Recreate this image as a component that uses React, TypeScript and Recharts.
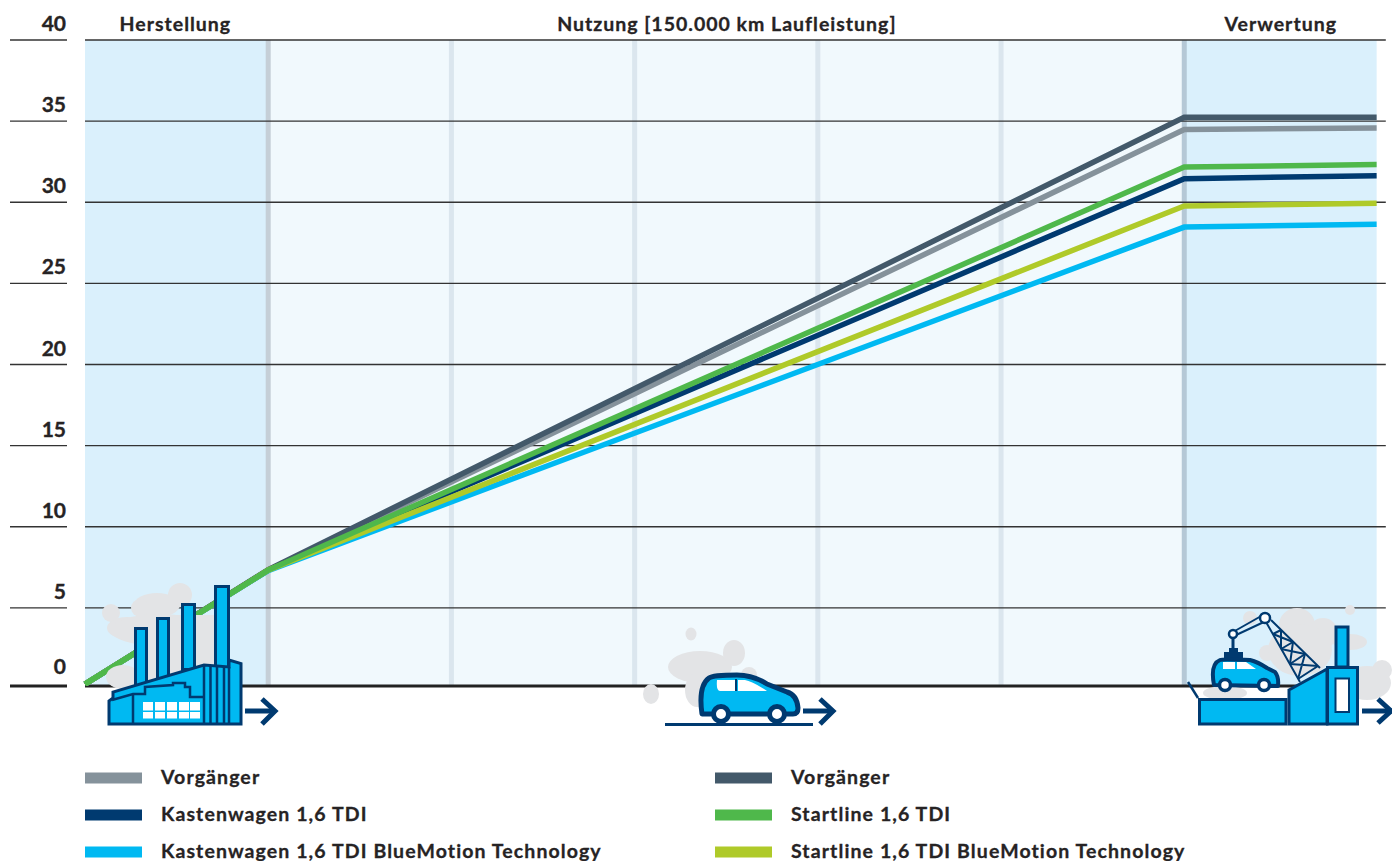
import React from "react";
import { ComposedChart, Line, XAxis, YAxis, ReferenceArea, ReferenceLine } from "recharts";

const FONT = "Lato, 'Open Sans', sans-serif";
const INK = "#262324";
const NAVY = "#003a70";
const CYAN = "#00b9f2";
const SMOKE = "#e3e4e6";

// x is thousand km of use; -30..0 is production, 150..181.5 is recycling
const stageX = [-30, 0, 150, 181.5];
const vorgaengerGrau = [0.3, 7.33, 34.49, 34.58];
const vorgaengerDunkel = [0.3, 7.36, 35.24, 35.24];
const kastenwagen = [0.3, 7.33, 31.45, 31.64];
const startline = [0.3, 7.33, 32.17, 32.32];
const kastenwagenBmt = [0.3, 7.3, 28.47, 28.64];
const startlineBmt = [0.3, 7.33, 29.77, 29.94];

const seriesDefs = [
  { key: "vorgaengerGrau", label: "Vorgänger", color: "#85929b", values: vorgaengerGrau },
  { key: "vorgaengerDunkel", label: "Vorgänger", color: "#43596a", values: vorgaengerDunkel },
  { key: "kastenwagen", label: "Kastenwagen 1,6 TDI", color: "#003a70", values: kastenwagen },
  { key: "kastenwagenBmt", label: "Kastenwagen 1,6 TDI BlueMotion Technology", color: "#00b9f2", values: kastenwagenBmt },
  { key: "startlineBmt", label: "Startline 1,6 TDI BlueMotion Technology", color: "#afca29", values: startlineBmt },
  { key: "startline", label: "Startline 1,6 TDI", color: "#4fb84b", values: startline },
];
const legendLeft = ["vorgaengerGrau", "kastenwagen", "kastenwagenBmt"];
const legendRight = ["vorgaengerDunkel", "startline", "startlineBmt"];

const data = stageX.map((x, i) => {
  const row: Record<string, number> = { x };
  seriesDefs.forEach((s) => (row[s.key] = s.values[i]));
  return row;
});

const BASE = 0.185;
const yTicks = [BASE, 5, 10, 15, 20, 25, 30, 35, 40];
const phaseTicks = [-15.2, 75.1, 165.8];
const phaseLabels = ["Herstellung", "Nutzung [150.000 km Laufleistung]", "Verwertung"];
const innerBands = [30, 60, 90, 120];

const YTick = ({ y, payload }: any) => {
  const isBase = payload.value === BASE;
  return (
    <g>
      <line x1={10} x2={67} y1={y} y2={y} stroke={isBase ? "#222" : "#333"} strokeWidth={isBase ? 3 : 1.4} />
      <text x={66} y={y - (isBase ? 12 : 9)} textAnchor="end" fontFamily={FONT} fontWeight={700} fontSize={21} stroke={INK} strokeWidth={0.35} fill={INK}>
        {isBase ? 0 : payload.value}
      </text>
    </g>
  );
};

const XTick = ({ x, payload, index }: any) => (
  <text x={x} y={31} textAnchor="middle" fontFamily={FONT} fontWeight={700} fontSize={19.5} letterSpacing={1} stroke={INK} strokeWidth={0.3} fill={INK}>
    {phaseLabels[index]}
  </text>
);

const Arrow = ({ x, tip }: { x: number; tip: number }) => (
  <g fill="none" stroke={NAVY} strokeWidth={5}>
    <path d={`M${x} 711H${tip - 2}`} />
    <path d={`M${tip - 14} 699L${tip - 1} 711L${tip - 14} 724`} />
  </g>
);

const Factory = () => (
  <g>
    <g fill={SMOKE}>
      <circle cx={111} cy={613} r={9} />
      <ellipse cx={157} cy={605} rx={23} ry={12} />
      <circle cx={180} cy={595} r={12} />
      <circle cx={140} cy={608} r={9} />
      <ellipse cx={127} cy={628} rx={20} ry={11} />
      <ellipse cx={160} cy={630} rx={50} ry={16} />
      <ellipse cx={190} cy={635} rx={27} ry={16} />
      <rect x={140} y={615} width={75} height={65} />
      <circle cx={220} cy={653} r={10} />
      <ellipse cx={123} cy={677} rx={17} ry={12} />
    </g>
    <g fill={CYAN} stroke={NAVY} strokeWidth={3}>
      <rect x={135.5} y={628.5} width={11} height={58} />
      <rect x={157.5} y={618.5} width={11} height={60} />
      <rect x={182.5} y={604.5} width={12} height={65} />
      <rect x={215.5} y={586.5} width={13} height={82} />
      <path d="M109 724V701L113 698V692L204 665L229 667V660L241 663.5V724Z" />
    </g>
    <g fill="none" stroke={NAVY} strokeWidth={2.5}>
      <path d="M112 700L133 694H145V687L173 685V683H185V687H190V697H204" />
      <path d="M133 694V724M204 665V724M210.500 666V724M217 666V724M224 667V724M229 667V724" />
    </g>
    <g fill="#fff">
      {[143, 155, 167, 179, 190].map((x) =>
        [702, 712].map((y) => <rect key={`${x}-${y}`} x={x} y={y} width={10} height={y === 702 ? 8.500 : 6.500} />)
      )}
    </g>
    <Arrow x={245} tip={276} />
  </g>
);

const UseCar = () => (
  <g>
    <g fill={SMOKE}>
      <ellipse cx={700} cy={667} rx={32} ry={16} />
      <ellipse cx={734} cy={653} rx={11} ry={13} />
      <ellipse cx={691} cy={634} rx={5.500} ry={6.500} />
      <ellipse cx={651} cy={694} rx={8} ry={10} />
      <circle cx={749} cy={675} r={8} />
      <ellipse cx={697} cy={690} rx={12} ry={17} />
    </g>
    <path d="M702 714Q698 686 709 678Q713 675 737 675Q753 675 767 684L787 692Q797 695 798 708Q798 714 793 714Z" fill={CYAN} stroke={NAVY} strokeWidth={5} strokeLinejoin="round" />
    <path d="M717 680H735V691H720Q716 691 717 680ZM738 680H745Q752 681 767 691H738Z" fill="#fff" />
    <path d="M736 679V691" stroke={NAVY} strokeWidth={2} />
    {[721, 777].map((cx) => (
      <circle key={cx} cx={cx} cy={714} r={7.500} fill="#fff" stroke={NAVY} strokeWidth={5} />
    ))}
    <path d="M665 724.500H813" stroke={NAVY} strokeWidth={3} />
    <Arrow x={803} tip={834} />
  </g>
);

const Recycling = () => (
  <g>
    <g fill={SMOKE}>
      <circle cx={1250} cy={618} r={7} />
      <ellipse cx={1297} cy={625} rx={18} ry={17} />
      <circle cx={1350} cy={610} r={5} />
      <circle cx={1323} cy={633} r={15} />
      <ellipse cx={1350} cy={642} rx={17} ry={8} />
      <circle cx={1267} cy={653} r={8} />
      <circle cx={1382} cy={670} r={10} />
      <ellipse cx={1367} cy={683} rx={24} ry={17} />
      <ellipse cx={1300} cy={650} rx={32} ry={26} />
      <ellipse cx={1225} cy={693} rx={22} ry={7} />
    </g>
    <g fill={CYAN} stroke={NAVY} strokeWidth={3}>
      <path d="M1199.500 699.500H1286V724H1199.500Z" />
      <path d="M1289 690L1327 669V724H1289Z" />
      <rect x={1327.500} y={667.500} width={30} height={56.500} />
      <rect x={1336} y={627} width={12} height={40} />
    </g>
    <rect x={1335.500} y={678.500} width={13.500} height={33.500} fill="#fff" stroke={NAVY} strokeWidth={2} />
    <path d="M1188 682L1198 698" stroke={NAVY} strokeWidth={2.500} />
    <g fill="none" stroke={NAVY} strokeWidth={2}>
      <path d="M1233 632L1263 615M1234 636L1266 621" />
      <path d="M1266 622L1300 682M1271 620L1320 668" />
      <path d="M1273 634L1281 630M1281 649L1293 642M1290 664L1305 654M1298 679L1318 666" />
      <path d="M1273 634L1293 642M1281 630L1281 649M1281 649L1305 654M1293 642L1290 664M1290 664L1318 666M1305 654L1298 679" />
    </g>
    <circle cx={1265} cy={618} r={5} fill="#fff" stroke={NAVY} strokeWidth={2.500} />
    <circle cx={1233} cy={634} r={4} fill="#fff" stroke={NAVY} strokeWidth={2.500} />
    <path d="M1233 638V652" stroke={NAVY} strokeWidth={3} />
    <rect x={1224} y={652} width={19} height={7} fill={NAVY} />
    <rect x={1229} y={648} width={9} height={6} fill={NAVY} />
    <path d="M1214 685Q1210 664 1220 660Q1222 659 1250 660Q1258 662 1267 668L1275 672Q1279 677 1278 686Z" fill={CYAN} stroke={NAVY} strokeWidth={4} strokeLinejoin="round" />
    <path d="M1223 662H1235V669H1223ZM1237 662H1246L1256 669H1237Z" fill="#fff" />
    {[1225, 1264].map((cx) => (
      <circle key={cx} cx={cx} cy={685} r={5.500} fill="#fff" stroke={NAVY} strokeWidth={3.500} />
    ))}
    <g fill="none" stroke={NAVY} strokeWidth={5}>
      <path d="M1362 711H1392" />
      <path d="M1378 699L1391 711L1378 723" />
    </g>
  </g>
);

const LegendColumn = ({ keys, x }: { keys: string[]; x: number }) => (
  <g>
    {keys.map((key, i) => {
      const s = seriesDefs.find((d) => d.key === key)!;
      const cy = 778 + i * 37;
      return (
        <g key={key}>
          <rect x={x} y={cy - 5.500} width={57} height={11} fill={s.color} />
          <text x={x + 76} y={cy + 6} fontFamily={FONT} fontWeight={700} fontSize={19.500} letterSpacing={1.1} stroke={INK} strokeWidth={0.3} fill={INK}>
            {s.label}
          </text>
        </g>
      );
    })}
  </g>
);

export default function App() {
  return (
    <div style={{ position: "absolute", left: 0, top: 0, width: 1392, height: 861, overflow: "hidden" }}>
      <ComposedChart width={1392} height={861} data={data} margin={{ top: 0, right: 6.2, bottom: 175, left: 0 }}>
        <XAxis
          type="number"
          dataKey="x"
          orientation="top"
          domain={[-30, 183]}
          ticks={phaseTicks}
          interval={0}
          axisLine={false}
          tickLine={false}
          height={40}
          tick={<XTick />}
        />
        <YAxis
          type="number"
          domain={[BASE, 40]}
          ticks={yTicks}
          interval={0}
          width={85}
          axisLine={false}
          tickLine={false}
          tick={<YTick />}
          allowDataOverflow
        />
        <ReferenceArea x1={-30} x2={0} fill="#daf0fc" fillOpacity={1} stroke="none" />
        <ReferenceArea x1={0} x2={150} fill="#f1f9fd" fillOpacity={1} stroke="none" />
        <ReferenceArea x1={150} x2={181.5} fill="#daf0fc" fillOpacity={1} stroke="none" />
        <ReferenceLine x={0} stroke="#c5cfd7" strokeWidth={5} />
        {innerBands.map((x) => (
          <ReferenceLine key={x} x={x} stroke="#dbe6ee" strokeWidth={5} />
        ))}
        <ReferenceLine x={150} stroke="#b5c8d6" strokeWidth={5} />
        {yTicks.map((t) => (
          <ReferenceLine key={t} y={t} stroke={t === BASE ? "#222" : "#333"} strokeWidth={t === BASE ? 3 : 1.4} />
        ))}
        {seriesDefs.map((s) => (
          <Line
            key={s.key}
            dataKey={s.key}
            type="linear"
            stroke={s.color}
            strokeWidth={5.500}
            dot={false}
            activeDot={false}
            strokeLinecap="butt"
            isAnimationActive={false}
          />
        ))}
      </ComposedChart>
      <svg width={1392} height={861} style={{ position: "absolute", left: 0, top: 0, pointerEvents: "none" }}>
        <Factory />
        <UseCar />
        <Recycling />
        <LegendColumn keys={legendLeft} x={85} />
        <LegendColumn keys={legendRight} x={715} />
      </svg>
    </div>
  );
}
